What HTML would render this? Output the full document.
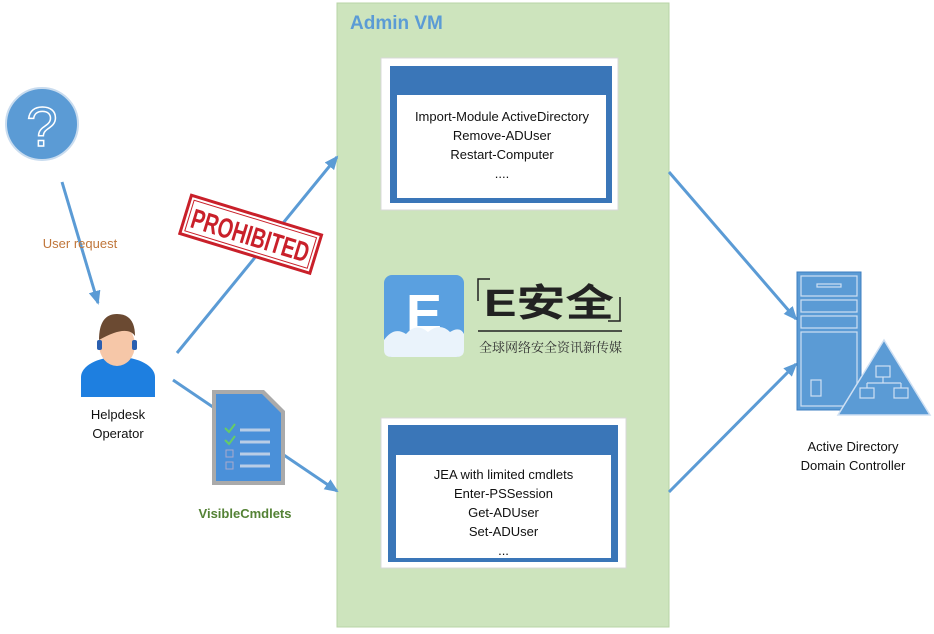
<!DOCTYPE html>
<html><head><meta charset="utf-8"><style>
body{margin:0;width:934px;height:634px;background:#fff;overflow:hidden;font-family:"Liberation Sans","Noto Sans CJK SC",sans-serif}
.t{position:absolute;font-size:13px;color:#111;text-align:center;line-height:19px}
</style></head><body>
<svg width="934" height="634" style="position:absolute;left:0;top:0">
<defs>
<marker id="b" markerWidth="14" markerHeight="12" refX="12" refY="6" orient="auto" markerUnits="userSpaceOnUse"><path d="M0,0 L14,6 L0,12z" fill="#5b9bd5"/></marker></defs>
<rect x="337" y="3" width="332" height="624" fill="#cde4bd" stroke="#b8d4a6"/>
<text x="350" y="29" font-size="19" font-weight="bold" fill="#5b9bd5" font-family="Liberation Sans">Admin VM</text>
<rect x="381" y="58" width="237" height="152" fill="#fff" stroke="#d8d8d8"/>
<rect x="390" y="66" width="222" height="137" fill="#3a76b8"/>
<rect x="397" y="95" width="209" height="103" fill="#fff"/>
<rect x="381" y="418" width="245" height="150" fill="#fff" stroke="#d8d8d8"/>
<rect x="388" y="425" width="230" height="137" fill="#3a76b8"/>
<rect x="396" y="455" width="215" height="103" fill="#fff"/>
<!-- logo -->
<rect x="384" y="275" width="80" height="82" rx="8" fill="#5aa0e0"/>
<text x="424" y="332" font-size="54" font-weight="bold" fill="#fff" text-anchor="middle" font-family="Liberation Sans">E</text>
<path d="M384,340 q10,-14 22,-6 q10,-12 22,-2 q12,-10 22,0 q10,-6 14,2 v16 q0,7 -8,7 h-64 q-8,0 -8,-7z" fill="#eaf3fb"/>
<path d="M478,301 v-22 h12" stroke="#222" fill="none" stroke-width="1.5"/>
<path d="M620,297 v24 h-12" stroke="#222" fill="none" stroke-width="1.5"/>
<text x="484" y="316" font-size="38" font-weight="bold" fill="#222" font-family="Liberation Sans,Noto Sans CJK SC,sans-serif" textLength="130" lengthAdjust="spacingAndGlyphs">E安全</text>
<line x1="478" y1="331" x2="622" y2="331" stroke="#222" stroke-width="1.5"/>
<text x="479" y="352" font-size="13" fill="#333" font-family="Noto Serif CJK SC,serif">全球网络安全资讯新传媒</text>
<!-- question -->
<circle cx="42" cy="124" r="36" fill="#5b9bd5" stroke="#c9dcef" stroke-width="2"/>
<text x="42" y="146" font-size="56" fill="none" stroke="#fff" stroke-width="1.5" text-anchor="middle" font-family="Liberation Sans">?</text>
<!-- arrows -->
<g stroke="#5b9bd5" stroke-width="3" marker-end="url(#b)">
<line x1="62" y1="182" x2="98" y2="303"/>
<line x1="177" y1="353" x2="337" y2="157"/>
<line x1="173" y1="380" x2="337" y2="491"/>
<line x1="669" y1="172" x2="796" y2="319"/>
<line x1="669" y1="492" x2="796" y2="364"/>
</g>
<!-- prohibited -->
<g transform="rotate(17 250 233)">
<rect x="183" y="214" width="136" height="40" fill="#fff" stroke="#c9202a" stroke-width="3"/>
<rect x="187" y="218" width="128" height="32" fill="none" stroke="#c9202a" stroke-width="1"/>
<text x="251" y="245" font-size="28" font-weight="bold" fill="#c9202a" text-anchor="middle" font-family="Liberation Sans Narrow,Liberation Sans" textLength="122" lengthAdjust="spacingAndGlyphs">PROHIBITED</text>
</g>
<!-- person -->
<ellipse cx="118" cy="377" rx="37" ry="20" fill="#1e7fe0"/>
<rect x="81" y="377" width="74" height="20" fill="#1e7fe0"/>
<ellipse cx="117" cy="345" rx="18" ry="21" fill="#f6c7a8"/>
<path d="M99,340 q0,-26 18,-26 q18,0 18,22 q-8,-12 -36,4z" fill="#6b4a32"/>
<rect x="97" y="340" width="5" height="10" rx="2" fill="#2a5fb0"/><rect x="132" y="340" width="5" height="10" rx="2" fill="#2a5fb0"/>
<!-- doc -->
<path d="M212,390 h52 l21,21 v74 h-73z" fill="#aaa"/>
<path d="M216,394 h46 l19,19 v68 h-65z" fill="#4a90d9"/>
<g stroke="#b8cde6" stroke-width="3"><line x1="240" y1="430" x2="270" y2="430"/><line x1="240" y1="442" x2="270" y2="442"/><line x1="240" y1="454" x2="270" y2="454"/><line x1="240" y1="466" x2="270" y2="466"/></g>
<g fill="none" stroke="#aac" stroke-width="1"><rect x="226" y="450" width="7" height="7"/><rect x="226" y="462" width="7" height="7"/></g>
<path d="M225,428 l4,4 l6,-8 M225,440 l4,4 l6,-8" stroke="#6c6" stroke-width="2" fill="none"/>
<!-- server -->
<rect x="797" y="272" width="64" height="138" fill="#5b9bd5" stroke="#3f7fc0"/>
<g fill="none" stroke="#cfe0f3" stroke-width="1.2">
<rect x="801" y="276" width="56" height="20"/><rect x="817" y="284" width="24" height="3"/>
<rect x="801" y="300" width="56" height="12"/><rect x="801" y="316" width="56" height="12"/>
<rect x="801" y="332" width="56" height="74"/><rect x="811" y="380" width="10" height="16"/></g>
<path d="M884,340 l46,75 h-92z" fill="#5b9bd5" stroke="#cfe0f3" stroke-width="1.5"/>
<g fill="none" stroke="#cfe0f3" stroke-width="1.2"><rect x="876" y="366" width="14" height="11"/><path d="M883,377 v6 M867,383 h34 M867,383 v5 M901,383 v5"/><rect x="860" y="388" width="14" height="10"/><rect x="894" y="388" width="14" height="10"/></g>
</svg>
<div class="t" style="left:398px;top:107px;width:208px">Import-Module ActiveDirectory<br>Remove-ADUser<br>Restart-Computer<br>....</div>
<div class="t" style="left:396px;top:465px;width:215px">JEA with limited cmdlets<br>Enter-PSSession<br>Get-ADUser<br>Set-ADUser<br>...</div>
<div class="t" style="left:30px;top:234px;width:100px;color:#c0763a">User request</div>
<div class="t" style="left:68px;top:405px;width:100px">Helpdesk<br>Operator</div>
<div class="t" style="left:190px;top:504px;width:110px;color:#548235;font-weight:bold">VisibleCmdlets</div>
<div class="t" style="left:773px;top:437px;width:160px">Active Directory<br>Domain Controller</div>
</body></html>
